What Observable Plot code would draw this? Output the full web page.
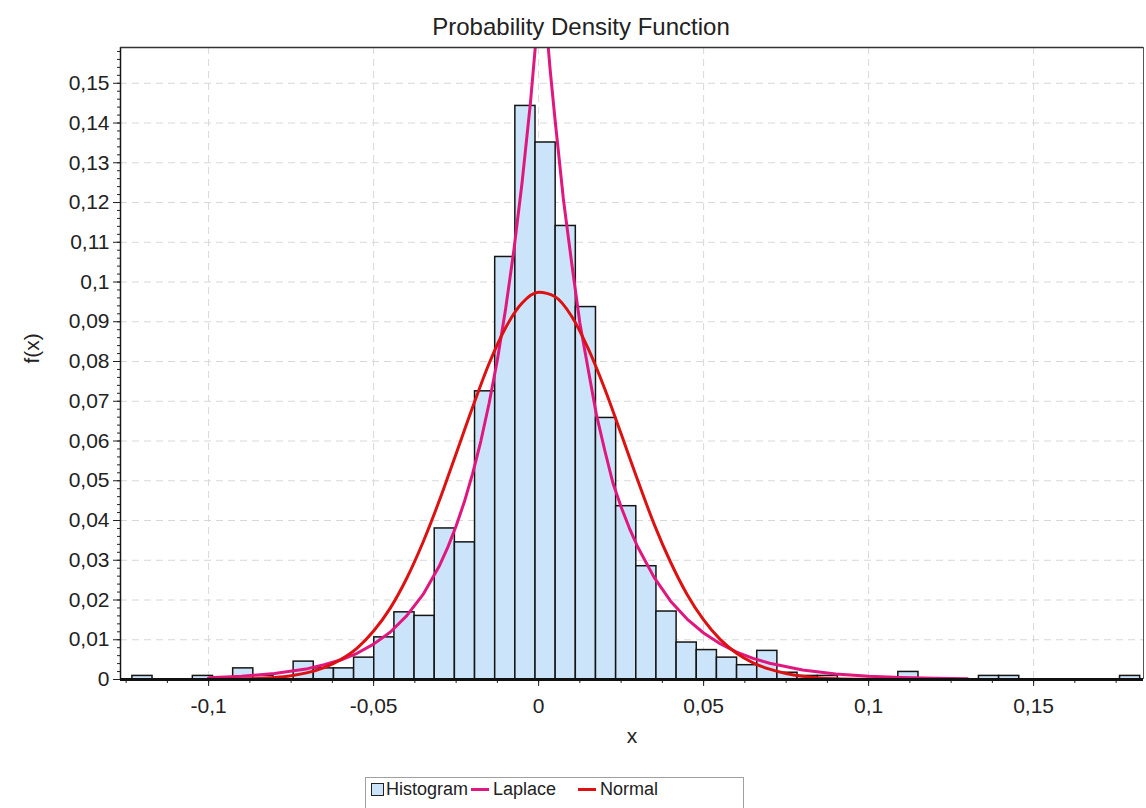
<!DOCTYPE html>
<html>
<head>
<meta charset="utf-8">
<script src="https://cdn.jsdelivr.net/npm/d3@7"></script>
<script src="https://cdn.jsdelivr.net/npm/@observablehq/plot@0.6"></script>
<style>
  html, body { margin: 0; padding: 0; background: #fff; overflow: hidden; }
  #wrap { position: relative; width: 1146px; height: 808px; overflow: hidden; font-family: "Liberation Sans", Arial, sans-serif; color: #222; }
  #title { position: absolute; left: 16px; top: 14px; width: 1130px; line-height: 26px; font-size: 24px; text-align: center; color: #222; }
  #chart { position: absolute; left: 0; top: 44px; }
  #legend { position: absolute; left: 365px; top: 777px; width: 377px; height: 30px; border: 1px solid #a0a0a0; font-size: 18px; color: #222; }
  #legend .it { position: absolute; top: 0px; line-height: 22px; white-space: nowrap; }
  #legend .sq { position: absolute; left: 5px; top: 5px; width: 11px; height: 11px; border: 1px solid #222; background: #cce4f9; }
  #legend .ln { position: absolute; top: 10px; width: 18px; height: 3px; }
</style>
</head>
<body>
<div id="wrap">
  <div id="title">Probability Density Function</div>
  <div id="chart"></div>
  <div id="legend">
    <div class="sq"></div>
    <div class="it" style="left:20px">Histogram</div>
    <div class="ln" style="left:105px;background:#e0177f"></div>
    <div class="it" style="left:127px">Laplace</div>
    <div class="ln" style="left:212px;background:#dd1111"></div>
    <div class="it" style="left:234px">Normal</div>
  </div>
</div>
<script>
// ---- Histogram (50 equal bins) ----
const binStart = -0.1231;
const binWidth = 0.006108;
const binHeights = [
  0.0009, 0, 0, 0.0009, 0, 0.0028, 0.0009, 0, 0.0045, 0.0028,
  0.0028, 0.0055, 0.0106, 0.0169, 0.0160, 0.0380, 0.0345, 0.0725, 0.1063, 0.1443,
  0.1351, 0.1141, 0.0937, 0.0658, 0.0436, 0.0285, 0.0171, 0.0093, 0.0074, 0.0055,
  0.0036, 0.0072, 0.0017, 0.0009, 0.0009, 0, 0, 0, 0.0019, 0,
  0, 0, 0.0009, 0.0009, 0, 0, 0, 0, 0, 0.0009
];

// ---- Normal fit curve ----
const normalX = [-0.123, -0.11, -0.1, -0.095, -0.09, -0.085, -0.08, -0.075, -0.07, -0.065,
  -0.06, -0.055, -0.05, -0.045, -0.04, -0.035, -0.03, -0.025, -0.02, -0.015,
  -0.01, -0.005, 0, 0.005, 0.01, 0.015, 0.02, 0.025, 0.03, 0.035,
  0.04, 0.045, 0.05, 0.055, 0.06, 0.065, 0.07, 0.075, 0.08, 0.085,
  0.09, 0.1, 0.11, 0.13, 0.182];
const normalY = [0, 0.000005, 0.00003, 0.00006, 0.00013, 0.00026, 0.00051, 0.00096, 0.00173, 0.0030,
  0.0050, 0.0079, 0.0122, 0.0179, 0.0254, 0.0346, 0.0452, 0.0568, 0.0685, 0.0795,
  0.0885, 0.0947, 0.0974, 0.0963, 0.0914, 0.0833, 0.0732, 0.0618, 0.0502, 0.0391,
  0.0295, 0.0214, 0.0150, 0.0101, 0.0066, 0.0042, 0.0026, 0.0015, 0.0008, 0.0004,
  0.0002, 0.00005, 0.00001, 0, 0];

// ---- Laplace fit curve ----
const laplaceX = [-0.1, -0.09, -0.08, -0.07, -0.065, -0.06, -0.055, -0.05, -0.045, -0.04,
  -0.035, -0.03, -0.0275, -0.025, -0.0225, -0.02, -0.0175, -0.015, -0.0125, -0.01,
  -0.0075, -0.005, -0.0025, 0.001, 0.0035, 0.005, 0.0075, 0.01, 0.0125, 0.015,
  0.0175, 0.02, 0.0225, 0.025, 0.0275, 0.03, 0.035, 0.04, 0.045, 0.05,
  0.055, 0.06, 0.065, 0.07, 0.08, 0.09, 0.1, 0.11, 0.12, 0.13];
const laplaceY = [0.00047, 0.00084, 0.00152, 0.00273, 0.0037, 0.0049, 0.0066, 0.0089, 0.0119, 0.0160,
  0.0214, 0.0287, 0.0333, 0.0386, 0.0447, 0.0518, 0.0600, 0.0695, 0.0804, 0.0932,
  0.1080, 0.1251, 0.1449, 0.178, 0.1534, 0.1407, 0.1209, 0.1049, 0.0897, 0.0781,
  0.0667, 0.0578, 0.0495, 0.0434, 0.0381, 0.0334, 0.0257, 0.0197, 0.0152, 0.0117,
  0.0090, 0.0069, 0.0053, 0.0041, 0.0024, 0.0014, 0.0008, 0.0005, 0.0003, 0.0002];

// ---- Axes ----
const xDomain = [-0.1267, 0.1833];
const yDomain = [0, 0.159];
const xMajor = [-0.1, -0.05, 0, 0.05, 0.1, 0.15];
const xMinor = d3.range(-10, 15).map(i => i * 0.0125);
const yMajor = d3.range(0, 16).map(i => i / 100);
const yMinor = d3.range(0, 80).map(i => i * 0.002);
const fmt = d => d === 0 ? "0" : String(+d.toFixed(3)).replace(".", ",");

const bins = binHeights.map((h, i) => ({ x1: binStart + i * binWidth, x2: binStart + (i + 1) * binWidth, h }))
  .filter(d => d.h > 0);
const normal = normalX.map((x, i) => ({ x, y: normalY[i] }));
const laplace = laplaceX.map((x, i) => ({ x, y: laplaceY[i] }));

const chart = Plot.plot({
  width: 1146,
  height: 726,
  marginTop: 3,
  marginBottom: 91,
  marginLeft: 120,
  marginRight: 3,
  x: { domain: xDomain },
  y: { domain: yDomain },
  style: { fontFamily: "'Liberation Sans', Arial, sans-serif", fontSize: "21px", color: "#222", background: "white" },
  marks: [
    Plot.gridX(xMajor, { stroke: "#d8d8d8", strokeOpacity: 1, strokeDasharray: "7,5" }),
    Plot.gridY(yMajor.filter(d => d > 0), { stroke: "#d8d8d8", strokeOpacity: 1, strokeDasharray: "7,5" }),
    Plot.rect(bins, { x1: "x1", x2: "x2", y1: 0, y2: "h", fill: "#cce4f9", stroke: "#151515", strokeWidth: 1.5, inset: 0 }),
    Plot.line(laplace, { x: "x", y: "y", stroke: "#e0177f", strokeWidth: 3, clip: true }),
    Plot.line(normal, { x: "x", y: "y", stroke: "#dd1111", strokeWidth: 3, curve: "monotone-x", clip: true }),
    Plot.axisX(xMajor, { tickSize: 7, tickPadding: 12, tickFormat: fmt, label: null }),
    Plot.axisX(xMinor, { tickSize: 4, tickFormat: () => "", label: null }),
    Plot.axisY(yMajor, { tickSize: 7, tickPadding: 4, tickFormat: fmt, label: null }),
    Plot.axisY(yMinor, { tickSize: 3, tickFormat: () => "", label: null }),
    Plot.ruleX([xDomain[0]], { stroke: "#151515", strokeWidth: 1.5 }),
    Plot.ruleX([xDomain[1]], { stroke: "#555", strokeWidth: 1 }),
    Plot.ruleY([yDomain[1]], { stroke: "#333", strokeWidth: 1.5 }),
    Plot.ruleY([0], { stroke: "#111", strokeWidth: 3 }),
    Plot.text(["x"], { text: d => d, frameAnchor: "bottom", dy: 57, lineAnchor: "middle", fontSize: 21 }),
    Plot.text(["f(x)"], { text: d => d, frameAnchor: "left", dx: -88, rotate: -90, fontSize: 21 })
  ]
});
document.getElementById("chart").appendChild(chart);
</script>
</body>
</html>
